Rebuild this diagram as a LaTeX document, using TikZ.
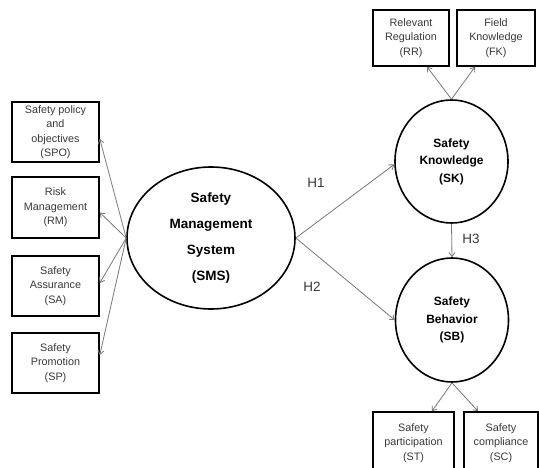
\documentclass[tikz,border=0pt]{standalone}
\usepackage{fontspec}
\setmainfont{Liberation Sans}
\usetikzlibrary{shapes.geometric,arrows.meta,calc}
\definecolor{txt}{HTML}{383838}
\definecolor{arr}{HTML}{777777}
\tikzset{
  box/.style={draw=black, line width=1.6pt, rectangle, inner sep=0pt, align=center,
    text=txt, font=\fontsize{10.8}{14.5}\selectfont},
  lat/.style={draw=black, line width=1.6pt, ellipse, inner sep=0pt, align=center,
    text=black, font=\fontsize{12}{17.5}\selectfont\bfseries},
  link/.style={draw=arr, line width=0.8pt, -{Straight Barb[length=4pt,width=6pt]}},
  hyp/.style={text=txt, font=\fontsize{13.5}{15}\selectfont}
}
\begin{document}
\begin{tikzpicture}[x=1pt,y=-1pt]
\useasboundingbox (0,0) rectangle (539,468);
\clip (0,0) rectangle (539,468);
% left indicator boxes
\node[box, minimum width=87pt, minimum height=60pt] (spo) at (55.5,132) {Safety policy\\and\\objectives\\(SPO)};
\node[box, minimum width=87pt, minimum height=61pt] (rm) at (55.5,207.5) {Risk\\Management\\(RM)};
\node[box, minimum width=87pt, minimum height=60pt] (sa) at (55.5,286) {Safety\\Assurance\\(SA)};
\node[box, minimum width=87pt, minimum height=60pt] (sp) at (55.5,363) {Safety\\Promotion\\(SP)};
% latent constructs
\node[lat, minimum width=168pt, minimum height=142pt, font=\fontsize{13.5}{26}\selectfont\bfseries] (sms) at (211,238) {Safety\\Management\\System\\(SMS)};
\node[lat, minimum width=113pt, minimum height=123pt] (sk) at (451.5,161.5) {Safety\\Knowledge\\(SK)};
\node[lat, minimum width=113pt, minimum height=124pt] (sb) at (452,320) {Safety\\Behavior\\(SB)};
% top boxes
\node[box, minimum width=76pt, minimum height=56pt] (rr) at (411,38) {Relevant\\Regulation\\(RR)};
\node[box, minimum width=78pt, minimum height=56pt] (fk) at (496,38) {Field\\Knowledge\\(FK)};
% bottom boxes
\node[box, minimum width=81pt, minimum height=62pt] (st) at (413.5,443) {Safety\\participation\\(ST)};
\node[box, minimum width=74pt, minimum height=62pt] (sc) at (501,443) {Safety\\compliance\\(SC)};
% connectors
\draw[link] (sms.west) -- ([yshift=-7pt]spo.east);
\draw[link] (sms.west) -- ([yshift=-5pt]rm.east);
\draw[link] (sms.west) -- ([yshift=3pt]sa.east);
\draw[link] (sms.west) -- ([yshift=8pt]sp.east);
\draw[link] (sms.east) -- ([yshift=-3pt]sk.west);
\draw[link] (sms.east) -- (sb.west);
\draw[link] (sk.south) -- (sb.north);
\draw[link] (sk.north) -- ([xshift=16pt]rr.south);
\draw[link] (sk.north) -- ([xshift=-21pt]fk.south);
\draw[link] (sb.south) -- ([xshift=18.5pt]st.north);
\draw[link] (sb.south) -- ([xshift=-23pt]sc.north);
% hypothesis labels
\node[hyp] (h1) at (316,183) {H1};
\node[hyp] (h2) at (312,287) {H2};
\node[hyp] (h3) at (471,239) {H3};
\end{tikzpicture}
\end{document}
